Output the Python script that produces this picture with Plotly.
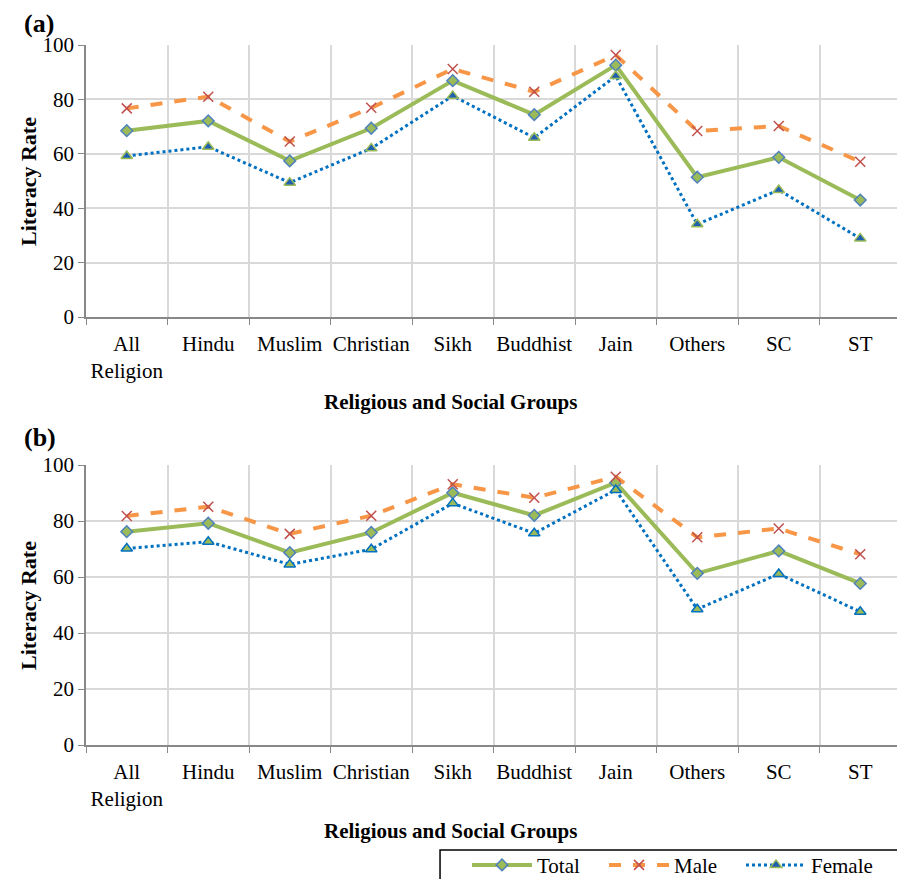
import plotly.graph_objects as go

categories = ["All<br>Religion", "Hindu", "Muslim", "Christian", "Sikh", "Buddhist", "Jain", "Others", "SC", "ST"]

total_a = [68.5, 72.1, 57.4, 69.4, 86.9, 74.4, 92.6, 51.4, 58.7, 43.0]
male_a = [76.7, 81.0, 64.5, 76.9, 91.2, 82.8, 96.3, 68.4, 70.2, 57.1]
female_a = [59.2, 62.6, 49.4, 62.0, 81.3, 65.9, 88.6, 34.1, 46.7, 28.9]

total_b = [76.2, 79.2, 68.7, 75.9, 90.1, 82.0, 93.7, 61.3, 69.3, 57.7]
male_b = [81.8, 85.1, 75.4, 81.9, 93.1, 88.3, 95.8, 74.2, 77.3, 68.1]
female_b = [70.2, 72.6, 64.5, 69.9, 86.3, 75.6, 91.1, 48.5, 61.1, 47.6]

y_ticks = [0, 20, 40, 60, 80, 100]

GREEN = "#9bbb59"
BLUE_OUT = "#4f81bd"
ORANGE = "#f79646"
RED = "#c0504d"
DOTBLUE = "#0070c0"
FONT = "Liberation Serif, Times New Roman, serif"

fig = go.Figure()

def add_panel(total, male, female, xa, ya, show, tri_fill, tri_line):
    fig.add_trace(go.Scatter(x=categories, y=total, name="Total", mode="lines+markers",
                             xaxis=xa, yaxis=ya, showlegend=show, legendgroup="t",
                             line=dict(color=GREEN, width=4),
                             marker=dict(symbol="diamond", size=9, color=GREEN,
                                         line=dict(color=BLUE_OUT, width=1.5))))
    fig.add_trace(go.Scatter(x=categories, y=male, name="Male", mode="lines+markers",
                             xaxis=xa, yaxis=ya, showlegend=show, legendgroup="m",
                             line=dict(color=ORANGE, width=4, dash="dash"),
                             marker=dict(symbol="x-thin", size=10, color=RED,
                                         line=dict(color=RED, width=1.5))))
    fig.add_trace(go.Scatter(x=categories, y=female, name="Female", mode="lines+markers",
                             xaxis=xa, yaxis=ya, showlegend=show, legendgroup="f",
                             line=dict(color=DOTBLUE, width=3, dash="dot"),
                             marker=dict(symbol="triangle-up", size=10, color=tri_fill,
                                         line=dict(color=tri_line, width=1.5))))

add_panel(total_a, male_a, female_a, "x", "y", True, "#1f5fb0", GREEN)
add_panel(total_b, male_b, female_b, "x2", "y2", False, GREEN, DOTBLUE)

xcommon = dict(type="category", tickson="boundaries", showgrid=True, gridcolor="#d9d9d9",
               gridwidth=1.5, showline=True, linecolor="#888888", linewidth=1.5,
               ticks="outside", ticklen=6, tickcolor="#888888", automargin=False,
               tickangle=0, ticklabelstandoff=7,
               tickfont=dict(family=FONT, size=21, color="black"), range=[-0.5, 9.5])
ycommon = dict(range=[0, 100], tickvals=y_ticks, showgrid=True, gridcolor="#d9d9d9",
               gridwidth=1.5, showline=True, linecolor="#888888", linewidth=1.5,
               ticks="outside", ticklen=6, tickcolor="#888888", zeroline=False,
               automargin=False,
               tickfont=dict(family=FONT, size=21, color="black"))

fig.update_layout(
    width=897, height=871,
    margin=dict(l=78, r=4, t=37, b=134, autoexpand=False),
    plot_bgcolor="white", paper_bgcolor="white",
    font=dict(family=FONT, size=21, color="black"),
    xaxis=dict(domain=[0, 1], anchor="y", **xcommon),
    yaxis=dict(domain=[0.6114, 1.0], anchor="x", **ycommon),
    xaxis2=dict(domain=[0, 1], anchor="y2", **xcommon),
    yaxis2=dict(domain=[0.0, 0.4], anchor="x2", **ycommon),
    legend=dict(orientation="h", x=0.4675, y=-0.1425, xanchor="left", yanchor="top",
                borderwidth=0, bgcolor="rgba(0,0,0,0)",
                font=dict(family=FONT, size=21), itemwidth=60, entrywidth=62,
                tracegroupgap=0),
    showlegend=True,
    shapes=[dict(type="rect", xref="paper", yref="paper", x0=0.4344, x1=1.02,
                 y0=-0.2, y1=-0.15, line=dict(color="black", width=1.5),
                 fillcolor="rgba(0,0,0,0)", layer="below")],
    annotations=[
        dict(text="<b>(a)</b>", x=-0.0785, y=1.0314, xref="paper", yref="paper",
             xanchor="left", yanchor="middle", showarrow=False, font=dict(size=26)),
        dict(text="<b>(b)</b>", x=-0.0785, y=0.4386, xref="paper", yref="paper",
             xanchor="left", yanchor="middle", showarrow=False, font=dict(size=26)),
        dict(text="<b>Literacy Rate</b>", x=-0.0712, y=0.8057, xref="paper", yref="paper",
             xanchor="center", yanchor="middle",
             textangle=-90, showarrow=False, font=dict(size=22)),
        dict(text="<b>Literacy Rate</b>", x=-0.0712, y=0.2, xref="paper", yref="paper",
             xanchor="center", yanchor="middle",
             textangle=-90, showarrow=False, font=dict(size=22)),
        dict(text="<b>Religious and Social Groups</b>", x=0.4475, y=0.49, xref="paper", yref="paper",
             xanchor="center", yanchor="middle", showarrow=False, font=dict(size=21)),
        dict(text="<b>Religious and Social Groups</b>", x=0.4475, y=-0.1229, xref="paper", yref="paper",
             xanchor="center", yanchor="middle", showarrow=False, font=dict(size=21)),
    ],
)

fig.write_html("out.html")
